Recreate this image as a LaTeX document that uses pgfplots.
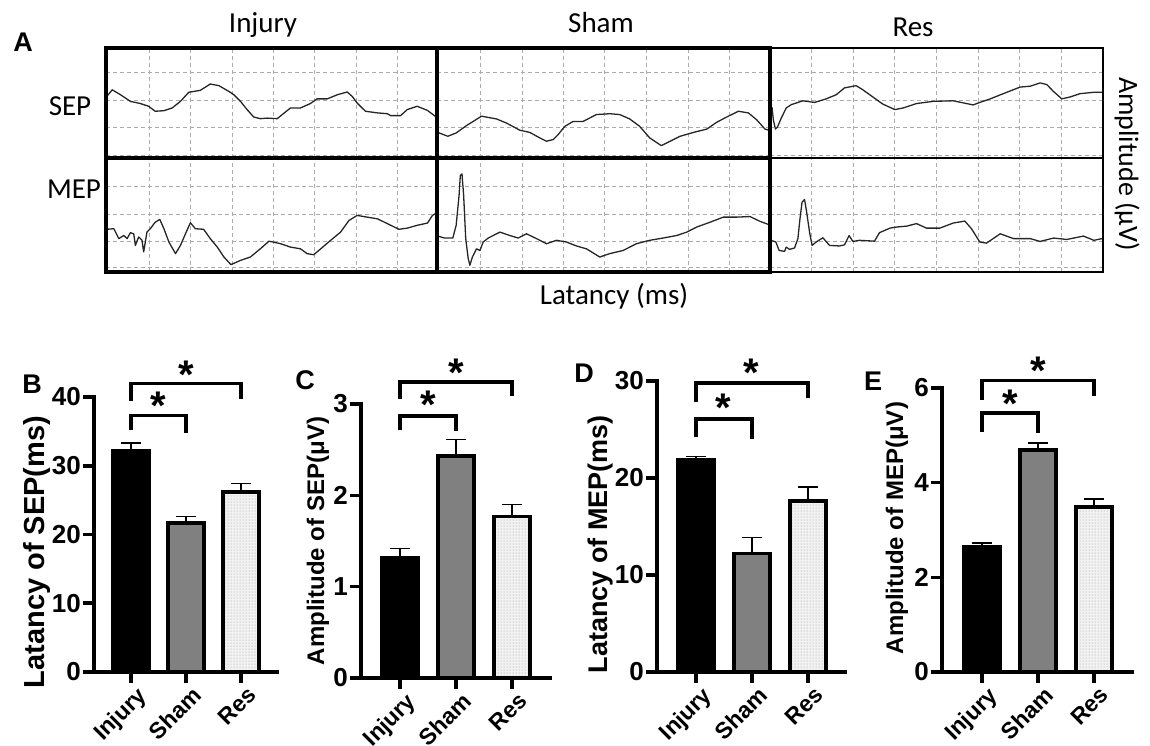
\documentclass[border=0pt]{standalone}
\usepackage{pgfplots}
\pgfplotsset{compat=1.18}
\usetikzlibrary{patterns}
\usepackage{fontspec}
\setmainfont{Carlito}
\newfontfamily\arial{Liberation Sans}

\tikzset{brk/.style={line width=3.4pt, black, line join=miter}}
\pgfplotsset{
  trace/.style={scale only axis, anchor=south west, xmin=0, xmax=8, ymin=0, ymax=4,
    xticklabels={}, yticklabels={}, major tick length=0pt, clip=false,
    grid=major, grid style={dash pattern=on 4pt off 3pt, gray!65, line width=1pt}},
  sepax/.style={trace, height=110pt, ytick={0.1,1.1,2.1,3.1}},
  mepax/.style={trace, height=114pt, ymax=4.03, ytick={0.15,1.07,2.05,3.02}},
  tr/.style={black!85, line width=1.3pt, no marks, line join=round},
  barax/.style={scale only axis, anchor=south west,
    axis x line=bottom, axis y line=left, axis line style={-, line width=3.6pt, line cap=rect},
    tick align=outside, major tick length=11pt, major tick style={line width=3.6pt, black},
    xtick={0,1,2}, xticklabels={Injury,Sham,Res},
    xticklabel style={rotate=45, anchor=north east, inner sep=1pt, xshift=3pt, yshift=-4pt, font=\arial\bfseries\fontsize{23}{23}\selectfont},
    yticklabel style={inner sep=2pt, font=\arial\bfseries\fontsize{26}{26}\selectfont},
    /pgf/number format/assume math mode=true,
    ymin=0, clip=false, ybar, bar width=36pt},
  eb/.style={error bars/.cd, y dir=plus, y explicit, error bar style={line width=1.6pt, black},
    error mark options={rotate=90, mark size=10pt, line width=1.6pt, black}},
  b1/.style={fill=black, draw=black, line width=3.6pt, bar shift=0pt, eb},
  b2/.style={fill=black!50, draw=black, line width=3.6pt, bar shift=0pt, eb},
  b3/.style={fill=gray!10, draw=black, line width=3.6pt, bar shift=0pt,
    postaction={pattern=dots, pattern color=gray!80}, eb},
}
\newcommand{\sigstar}[2]{\node[anchor=north, inner sep=0pt, font=\arial\bfseries\fontsize{40}{40}\selectfont] at (axis cs:#1,#2) {*};}
\newcommand{\frameit}[1]{\draw[line width=#1, black] (rel axis cs:0,0) rectangle (rel axis cs:1,1);}

\begin{document}
\begin{tikzpicture}
\useasboundingbox (0pt,0pt) rectangle (1150pt,745pt);

% ---------- Panel A ----------
% Injury
\begin{axis}[sepax, at={(106pt,587pt)}, width=331pt, xtick={1.05,2.05,3.05,4.05,5.05,6.05,7.05}]
\addplot[tr] coordinates {
(0.02,2.24)(0.15,2.48)(0.35,2.30)(0.59,2.06)(0.83,1.98)(1.03,1.88)(1.19,1.70)(1.40,1.72)
(1.60,1.82)(1.80,2.06)(2.00,2.39)(2.28,2.46)(2.52,2.69)(2.73,2.63)(2.97,2.42)(3.09,2.30)
(3.25,2.06)(3.41,1.76)(3.57,1.49)(3.73,1.43)(3.90,1.45)(4.14,1.43)(4.26,1.58)(4.46,1.82)
(4.70,1.82)(4.94,1.98)(5.10,2.15)(5.35,2.15)(5.59,2.30)(5.83,2.40)(5.95,2.24)(6.07,2.00)
(6.27,1.70)(6.56,1.64)(6.80,1.61)(6.88,1.54)(7.12,1.54)(7.28,1.76)(7.52,1.88)(7.77,1.73)(7.99,1.48)};
\frameit{3.4pt}
\end{axis}
\begin{axis}[mepax, at={(106pt,473pt)}, width=331pt, xtick={1.05,2.05,3.05,4.05,5.05,6.05,7.05}]
\addplot[tr] coordinates {
(0.02,1.51)(0.19,1.53)(0.31,1.18)(0.43,1.29)(0.51,1.18)(0.59,1.39)(0.67,1.35)(0.71,0.94)
(0.79,1.24)(0.87,1.12)(0.91,0.71)(0.99,1.41)(1.07,1.53)(1.19,1.76)(1.30,1.86)(1.40,1.53)
(1.52,1.06)(1.68,0.65)(1.80,0.94)(1.92,1.35)(2.04,1.74)(2.16,1.53)(2.36,1.51)(2.52,1.18)
(2.69,0.88)(2.85,0.53)(3.02,0.26)(3.25,0.41)(3.49,0.53)(3.73,0.82)(3.94,1.09)(4.22,1.00)
(4.46,0.88)(4.70,0.82)(4.86,0.65)(5.02,0.61)(5.19,0.82)(5.43,1.12)(5.67,1.41)(5.87,1.82)
(6.07,2.00)(6.31,1.94)(6.56,1.88)(6.80,1.71)(7.08,1.51)(7.28,1.55)(7.52,1.65)(7.77,1.73)
(7.89,2.00)(7.99,2.09)};
\frameit{3.4pt}
\end{axis}
% Res
\begin{axis}[sepax, at={(770pt,587pt)}, width=333pt, xtick={1,2,3,4,5,6,7}]
\addplot[tr] coordinates {
(0.01,1.88)(0.05,1.82)(0.08,1.39)(0.13,1.05)(0.18,1.13)(0.27,1.45)(0.39,1.82)(0.51,1.94)
(0.79,2.08)(1.07,2.02)(1.35,2.15)(1.59,2.30)(1.79,2.55)(2.07,2.63)(2.23,2.48)(2.47,2.22)
(2.71,1.96)(3.00,1.76)(3.20,1.82)(3.52,1.98)(3.92,2.06)(4.40,2.08)(4.72,1.98)(4.88,1.93)
(5.04,2.02)(5.29,2.15)(5.69,2.39)(6.01,2.58)(6.25,2.61)(6.49,2.73)(6.65,2.67)(6.81,2.42)
(7.01,2.15)(7.21,2.22)(7.45,2.34)(7.78,2.39)(7.98,2.39)};
\frameit{2pt}
\end{axis}
\begin{axis}[mepax, at={(770pt,473pt)}, width=333pt, xtick={1,2,3,4,5,6,7}]
\addplot[tr] coordinates {
(0.02,1.12)(0.14,1.06)(0.22,0.76)(0.35,0.73)(0.39,0.88)(0.47,0.80)(0.59,0.85)(0.67,1.18)
(0.72,1.88)(0.77,2.47)(0.83,2.56)(0.88,2.12)(0.95,1.41)(1.01,0.94)(1.11,1.06)(1.27,1.21)
(1.43,0.94)(1.67,0.92)(1.79,0.96)(1.90,1.29)(1.99,1.08)(2.15,1.12)(2.51,1.09)(2.63,1.39)
(2.88,1.55)(3.04,1.59)(3.28,1.62)(3.52,1.71)(3.76,1.55)(4.08,1.55)(4.40,1.73)(4.68,1.80)
(4.84,1.53)(5.04,1.06)(5.20,1.02)(5.53,1.35)(5.85,1.18)(6.25,1.18)(6.49,1.08)(6.81,1.20)
(7.13,1.15)(7.53,1.27)(7.78,1.12)(7.98,1.18)};
\frameit{2pt}
\end{axis}
% Sham (drawn last so its thick frame lies on top)
\begin{axis}[sepax, at={(437pt,587pt)}, width=333pt, xtick={1.05,2.05,3.05,4.03,5.03,6.04,7.02}]
\addplot[tr] coordinates {
(0.02,0.93)(0.26,0.79)(0.46,0.91)(0.71,1.18)(1.07,1.52)(1.43,1.42)(1.67,1.27)(1.99,1.01)
(2.23,0.93)(2.47,0.73)(2.63,0.61)(2.79,0.67)(2.91,0.85)(3.07,1.15)(3.27,1.33)(3.51,1.33)
(3.83,1.58)(4.15,1.61)(4.39,1.58)(4.63,1.42)(4.87,1.15)(5.11,0.73)(5.39,0.45)(5.60,0.61)
(5.84,0.79)(6.16,0.93)(6.48,1.05)(6.72,1.30)(6.96,1.49)(7.24,1.70)(7.48,1.64)(7.68,1.39)
(7.88,1.05)(7.98,1.01)};
\frameit{3.4pt}
\end{axis}
\begin{axis}[mepax, at={(437pt,473pt)}, width=333pt, xtick={1.05,2.05,3.05,4.03,5.03,6.04,7.02}]
\addplot[tr] coordinates {
(0.02,1.27)(0.18,1.20)(0.38,1.20)(0.46,1.65)(0.53,2.71)(0.56,3.41)(0.60,3.47)(0.64,2.71)
(0.69,1.18)(0.75,0.47)(0.79,0.24)(0.85,0.53)(0.95,0.82)(1.03,0.76)(1.11,1.06)(1.23,1.20)
(1.51,1.41)(1.75,1.29)(1.95,1.20)(2.15,1.35)(2.39,1.18)(2.63,1.00)(2.87,1.12)(3.11,1.06)
(3.35,0.92)(3.59,0.82)(3.91,0.53)(4.15,0.65)(4.47,0.76)(4.79,1.00)(5.11,1.12)(5.43,1.20)
(5.76,1.29)(6.00,1.41)(6.24,1.59)(6.56,1.76)(6.88,1.94)(7.20,1.94)(7.52,1.96)(7.76,1.79)(7.98,1.67)};
\frameit{3.4pt}
\end{axis}

\node[anchor=base, font=\fontsize{29}{29}\selectfont] at (263pt,712pt) {Injury};
\node[anchor=base, font=\fontsize{29}{29}\selectfont] at (601pt,712pt) {Sham};
\node[anchor=base, font=\fontsize{29}{29}\selectfont] at (913pt,708pt) {Res};
\node[anchor=base, font=\fontsize{29}{29}\selectfont] at (70pt,629pt) {SEP};
\node[anchor=base, font=\fontsize{29}{29}\selectfont] at (74pt,546pt) {MEP};
\node[anchor=base, font=\fontsize{29}{29}\selectfont] at (614pt,440pt) {Latancy (ms)};
\node[rotate=-90, font=\fontsize{28}{28}\selectfont] at (1127pt,581pt) {Amplitude (μV)};
\node[font=\arial\bfseries\fontsize{27}{27}\selectfont] at (23pt,703pt) {A};
\node[font=\arial\bfseries\fontsize{27}{27}\selectfont] at (32pt,361pt) {B};
\node[font=\arial\bfseries\fontsize{27}{27}\selectfont] at (305pt,365pt) {C};
\node[font=\arial\bfseries\fontsize{27}{27}\selectfont] at (584pt,372pt) {D};
\node[font=\arial\bfseries\fontsize{27}{27}\selectfont] at (873pt,364pt) {E};

\node[rotate=90, font=\arial\bfseries\fontsize{29}{29}\selectfont] at (37pt,193pt) {Latancy of SEP(ms)};
\node[rotate=90, font=\arial\bfseries\fontsize{24}{24}\selectfont] at (318pt,204pt) {Amplitude of SEP(μV)};
\node[rotate=90, font=\arial\bfseries\fontsize{27}{27}\selectfont] at (601pt,201pt) {Latancy of MEP(ms)};
\node[rotate=90, font=\arial\bfseries\fontsize{24}{24}\selectfont] at (897pt,217pt) {Amplitude of MEP(μV)};

% ---------- Panel B ----------
\begin{axis}[barax, at={(94pt,73pt)}, width=183pt, height=275pt, xmin=-0.673, xmax=2.655, ymax=40, ytick={0,10,20,30,40}]
\addplot[b1] coordinates {(0,32.2) +- (0,1.1)};
\addplot[b2] coordinates {(1,21.7) +- (0,0.9)};
\addplot[b3] coordinates {(2,26.2) +- (0,1.2)};
\draw[brk] (axis cs:0,35.2) |- (axis cs:1,37.3) -- (axis cs:1,34.7);
\draw[brk] (axis cs:0,39.4) |- (axis cs:2,42.0) -- (axis cs:2,39.7);
\sigstar{0.5}{40.8}
\sigstar{1}{45.3}
\end{axis}

% ---------- Panel C ----------
\begin{axis}[barax, at={(361pt,67pt)}, width=189pt, height=274pt, xmin=-0.70, xmax=2.68, ymax=3, ytick={0,1,2,3}]
\addplot[b1] coordinates {(0,1.32) +- (0,0.10)};
\addplot[b2] coordinates {(1,2.43) +- (0,0.18)};
\addplot[b3] coordinates {(2,1.77) +- (0,0.13)};
\draw[brk] (axis cs:0,2.71) |- (axis cs:1,2.87) -- (axis cs:1,2.70);
\draw[brk] (axis cs:0,3.05) |- (axis cs:2,3.24) -- (axis cs:2,3.09);
\sigstar{0.5}{3.15}
\sigstar{1}{3.50}
\end{axis}

% ---------- Panel D ----------
\begin{axis}[barax, at={(657pt,73pt)}, width=188pt, height=291pt, xmin=-0.70, xmax=2.66, ymax=30, ytick={0,10,20,30}]
\addplot[b1] coordinates {(0,21.9) +- (0,0.3)};
\addplot[b2] coordinates {(1,12.2) +- (0,1.65)};
\addplot[b3] coordinates {(2,17.6) +- (0,1.5)};
\draw[brk] (axis cs:0,24.2) |- (axis cs:1,26.1) -- (axis cs:1,24.05);
\draw[brk] (axis cs:0,27.8) |- (axis cs:2,29.8) -- (axis cs:2,28.2);
\sigstar{0.48}{28.7}
\sigstar{0.98}{32.3}
\end{axis}

% ---------- Panel E ----------
\begin{axis}[barax, at={(942pt,73pt)}, width=190pt, height=284pt, xmin=-0.71, xmax=2.68, ymax=6, ytick={0,2,4,6}]
\addplot[b1] coordinates {(0,2.65) +- (0,0.08)};
\addplot[b2] coordinates {(1,4.69) +- (0,0.15)};
\addplot[b3] coordinates {(2,3.49) +- (0,0.16)};
\draw[brk] (axis cs:0,5.08) |- (axis cs:1,5.47) -- (axis cs:1,5.05);
\draw[brk] (axis cs:0,5.75) |- (axis cs:2,6.16) -- (axis cs:2,5.84);
\sigstar{0.5}{5.96}
\sigstar{1}{6.67}
\end{axis}
\end{tikzpicture}
\end{document}
